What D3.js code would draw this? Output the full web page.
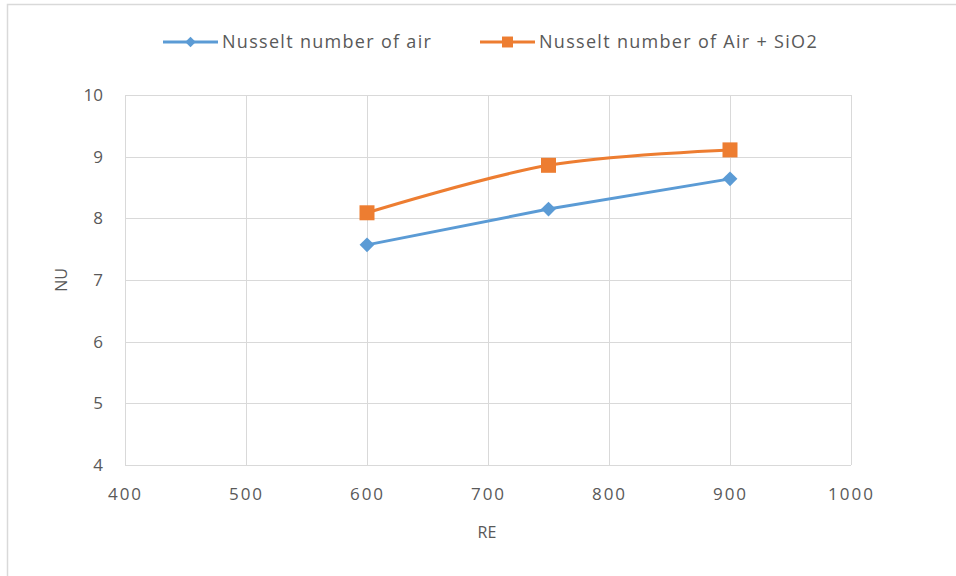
<!DOCTYPE html>
<html>
<head>
<meta charset="utf-8">
<script src="https://cdn.jsdelivr.net/npm/d3@7"></script>
<style>
	body { margin: 0; background: #fff; }
	svg text { font-family: "Open Sans", "Noto Sans", sans-serif; fill: #595959; }
</style>
</head>
<body>
<svg id="chart" width="956" height="576"></svg>
<script>

// chart values
const re_values = [600, 750, 900];
const nu_air = [7.57, 8.15, 8.64];
const nu_air_sio2 = [8.09, 8.86, 9.11];
const series_names = ["Nusselt number of air", "Nusselt number of Air + SiO2"];
const x_ticks = [400, 500, 600, 700, 800, 900, 1000];
const y_ticks = [4, 5, 6, 7, 8, 9, 10];

const svg = d3.select("#chart");

// outer chart frame (runs off the right and bottom of the picture)
svg.append("rect")
	.attr("x", 7.5).attr("y", 4.5)
	.attr("width", 1000).attr("height", 1000)
	.style("fill", "none")
	.style("stroke", "#d9d9d9")
	.style("stroke-width", "1.5px");

const x = d3.scaleLinear().domain([400, 1000]).range([125, 851]);
const y = d3.scaleLinear().domain([4, 10]).range([465, 95]);

// gridlines
const grid = svg.append("g").attr("class", "grid");
grid.selectAll("line.h")
	.data(y_ticks)
	.enter().append("line")
	.attr("x1", x(400)).attr("x2", x(1000))
	.attr("y1", d => Math.round(y(d)) + 0.5).attr("y2", d => Math.round(y(d)) + 0.5)
	.style("stroke", "#d9d9d9").style("stroke-width", "1px");
grid.selectAll("line.v")
	.data(x_ticks)
	.enter().append("line")
	.attr("y1", y(4)).attr("y2", y(10))
	.attr("x1", d => Math.round(x(d)) + 0.5).attr("x2", d => Math.round(x(d)) + 0.5)
	.style("stroke", "#d9d9d9").style("stroke-width", "1px");

// axes (labels only, lines come from the grid)
const x_axis = svg.append("g")
	.attr("transform", "translate(0," + y(4) + ")")
	.call(d3.axisBottom(x).tickValues(x_ticks).tickFormat(d3.format("d")).tickSize(0).tickPadding(23));
const y_axis = svg.append("g")
	.attr("transform", "translate(" + x(400) + ",0)")
	.call(d3.axisLeft(y).tickValues(y_ticks).tickFormat(d3.format("d")).tickSize(0).tickPadding(22));

[x_axis, y_axis].forEach(a => {
	a.select(".domain").remove();
	a.selectAll("text")
		.style("font-size", "17px")
		.style("fill", "#595959")
		.style("font-family", "\"Open Sans\", sans-serif");
});
x_axis.selectAll("text").style("letter-spacing", "2px");

// axis titles
svg.append("text")
	.attr("x", 487).attr("y", 538)
	.attr("text-anchor", "middle")
	.style("font-size", "16px")
	.text("RE");
svg.append("text")
	.attr("transform", "translate(67,280) rotate(-90)")
	.attr("text-anchor", "middle")
	.style("font-size", "16px")
	.text("NU");

// series
const series = [
	{ name: series_names[0], values: nu_air, color: "#5b9bd5", curve: d3.curveLinear, marker: d3.symbolDiamond2 },
	{ name: series_names[1], values: nu_air_sio2, color: "#ed7d31", curve: d3.curveCatmullRom.alpha(0.5), marker: d3.symbolSquare }
];

const line = d3.line()
	.x((d, i) => x(re_values[i]))
	.y(d => y(d));

series.forEach(s => {
	svg.append("path")
		.datum(s.values)
		.attr("d", line.curve(s.curve))
		.style("fill", "none")
		.style("stroke", s.color)
		.style("stroke-width", "3px")
		.style("stroke-linejoin", "round");

	svg.selectAll(null)
		.data(s.values)
		.enter().append("path")
		.attr("d", d3.symbol().type(s.marker).size(s.marker === d3.symbolSquare ? 225 : 140))
		.attr("transform", (d, i) => "translate(" + x(re_values[i]) + "," + y(d) + ")")
		.style("fill", s.color);
});

// legend
const legend_pos = [[163, 42], [480, 42]];
series.forEach((s, i) => {
	const g = svg.append("g").attr("transform", "translate(" + legend_pos[i][0] + "," + legend_pos[i][1] + ")");
	g.append("line")
		.attr("x1", 0).attr("x2", 55)
		.style("stroke", s.color).style("stroke-width", "3px");
	g.append("path")
		.attr("d", d3.symbol().type(s.marker).size(s.marker === d3.symbolSquare ? 120 : 70))
		.attr("transform", "translate(27.5,0)")
		.style("fill", s.color);
	g.append("text")
		.attr("x", 59).attr("y", 6)
		.style("font-size", "18px")
		.style("letter-spacing", "1.3px")
		.text(s.name);
});

</script>
</body>
</html>
